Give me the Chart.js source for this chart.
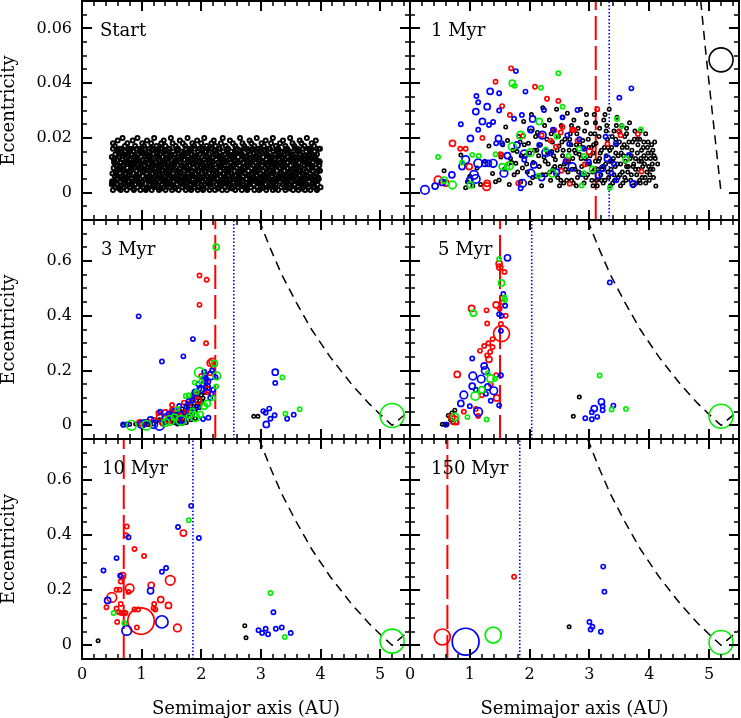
<!DOCTYPE html>
<html><head><meta charset="utf-8">
<script src="https://cdn.jsdelivr.net/npm/chart.js@4.4.0/dist/chart.umd.min.js"></script>
<style>
html,body{margin:0;padding:0;background:#fff;}
body{width:741px;height:718px;position:relative;overflow:hidden;}
canvas{position:absolute;}
</style></head><body>
<canvas id="c0"></canvas><canvas id="c1"></canvas><canvas id="c2"></canvas>
<canvas id="c3"></canvas><canvas id="c4"></canvas><canvas id="c5"></canvas>
<script>
// ---------------- DATA ----------------
const xTickVals = [0,1,2,3,4,5];
const xTickLabels = ['0','1','2','3','4','5'];
const yTickValsTop = [0,0.02,0.04,0.06];
const yTickLabelsTop = ['0','0.02','0.04','0.06'];
const yTickValsLow = [0,0.2,0.4,0.6];
const yTickLabelsLow = ['0','0.2','0.4','0.6'];
const xRange = [0,5.5];
const yRangeTop = [-0.01,0.07];
const yRangeLow = [-0.05,0.75];
const panelTitles = ['Start','1 Myr','3 Myr','5 Myr','10 Myr','150 Myr'];
const redLineA  = [null,3.105,2.235,1.505,0.70,0.625];
const blueLineA = [null,3.33,2.545,2.035,1.86,1.835];
const jupiterA = 5.2;
const jupiterE = [null,0.0485,0.036,0.033,0.015,0.010];
// Jupiter-crossing curve
const curveTopA = [4.86,4.95,5.05,5.15,5.20];
const curveTopE = [0.07,0.05,0.03,0.01,0.0];
const curveLowA = [2.97,3.15,3.35,3.59,3.85,4.16,4.52,4.81,5.00,5.15,5.20,5.50];
const curveLowE = [0.75,0.65,0.55,0.45,0.35,0.25,0.15,0.08,0.04,0.01,0.0,0.055];

// Start: initial planetesimals/embryos [a, e]
const startBand = [
[0.50,.003],[0.52,.001],[0.53,.004],[0.56,.002],[0.58,.005],[0.59,.003],[0.61,.002],[0.64,.004],[0.65,.001],[0.67,.005],[0.70,.002],[0.71,.003],[0.73,.005],[0.75,.001],[0.78,.004],[0.79,.003],[0.81,.002],[0.84,.005],[0.85,.004],[0.87,.001],[0.89,.003],[0.92,.005],[0.93,.002],[0.95,.004],[0.98,.001],[1.00,.003],[1.01,.004],[1.03,.002],[1.06,.005],[1.07,.001],[1.09,.002],[1.12,.004],[1.13,.003],[1.15,.005],[1.17,.001],[1.20,.004],[1.21,.002],[1.23,.003],[1.26,.005],[1.28,.002],[1.29,.001],[1.31,.004],[1.34,.003],[1.35,.005],[1.37,.002],[1.40,.001],[1.41,.003],[1.43,.004],[1.45,.005],[1.48,.002],[1.50,.003],[1.51,.001],[1.54,.004],[1.56,.002],[1.57,.005],[1.59,.003],[1.62,.001],[1.63,.005],[1.66,.004],[1.68,.002],[1.69,.003],[1.71,.004],[1.74,.001],[1.75,.005],[1.77,.002],[1.80,.004],[1.82,.003],[1.83,.001],[1.85,.005],[1.88,.003],[1.89,.002],[1.91,.004],[1.94,.001],[1.95,.002],[1.97,.005],[2.00,.003],[2.02,.004],[2.03,.001],[2.05,.003],[2.08,.005],[2.09,.002],[2.12,.004],[2.14,.001],[2.15,.003],[2.17,.002],[2.20,.005],[2.21,.004],[2.23,.001],[2.26,.003],[2.28,.005],[2.29,.002],[2.31,.003],[2.34,.004],[2.35,.001],[2.37,.005],[2.40,.002],[2.42,.004],[2.43,.001],[2.46,.003],[2.48,.005],[2.49,.003],[2.51,.002],[2.54,.004],[2.55,.005],[2.57,.001],[2.60,.003],[2.61,.002],[2.63,.004],[2.66,.005],[2.68,.001],[2.69,.004],[2.71,.003],[2.74,.002],[2.75,.005],[2.77,.001],[2.80,.003],[2.82,.004],[2.83,.002],[2.85,.005],[2.88,.003],[2.89,.001],[2.92,.004],[2.94,.002],[2.95,.005],[2.97,.001],[3.00,.003],[3.01,.004],[3.03,.002],[3.06,.005],[3.08,.003],[3.09,.001],[3.11,.002],[3.14,.004],[3.15,.005],[3.17,.003],[3.20,.001],[3.22,.004],[3.23,.002],[3.25,.003],[3.28,.005],[3.29,.001],[3.32,.004],[3.34,.002],[3.35,.005],[3.37,.003],[3.40,.002],[3.41,.001],[3.43,.004],[3.46,.005],[3.48,.003],[3.49,.002],[3.51,.004],[3.54,.001],[3.55,.005],[3.57,.003],[3.60,.004],[3.62,.002],[3.63,.001],[3.66,.005],[3.68,.003],[3.69,.004],[3.71,.002],[3.74,.001],[3.75,.005],[3.77,.003],[3.80,.002],[3.81,.004],[3.83,.001],[3.86,.003],[3.88,.005],[3.89,.002],[3.91,.004],[3.94,.001],[3.95,.003],[3.97,.005],[4.00,.002],
[0.51,.007],[0.53,.009],[0.55,.006],[0.57,.010],[0.58,.008],[0.60,.005],[0.63,.009],[0.64,.007],[0.66,.006],[0.69,.010],[0.70,.008],[0.72,.005],[0.74,.007],[0.76,.009],[0.77,.006],[0.80,.008],[0.82,.010],[0.83,.005],[0.86,.007],[0.88,.009],[0.90,.006],[0.91,.008],[0.94,.010],[0.96,.007],[0.97,.005],[0.99,.009],[1.02,.006],[1.04,.008],[1.05,.010],[1.08,.007],[1.10,.005],[1.11,.009],[1.14,.006],[1.16,.008],[1.18,.007],[1.19,.010],[1.22,.005],[1.24,.009],[1.25,.006],[1.27,.008],[1.30,.007],[1.32,.010],[1.33,.005],[1.36,.008],[1.38,.006],[1.39,.009],[1.42,.007],[1.44,.010],[1.46,.005],[1.47,.008],[1.49,.006],[1.52,.009],[1.53,.007],[1.55,.010],[1.58,.005],[1.60,.008],[1.61,.006],[1.64,.009],[1.65,.007],[1.67,.010],[1.70,.005],[1.72,.008],[1.73,.006],[1.76,.009],[1.78,.007],[1.79,.005],[1.81,.010],[1.84,.008],[1.86,.006],[1.87,.009],[1.90,.007],[1.92,.005],[1.93,.010],[1.96,.008],[1.98,.006],[1.99,.009],[2.01,.007],[2.04,.010],[2.06,.005],[2.07,.008],[2.10,.006],[2.11,.009],[2.13,.007],[2.16,.010],[2.18,.005],[2.19,.008],[2.22,.006],[2.24,.009],[2.25,.007],[2.27,.005],[2.30,.010],[2.32,.008],[2.33,.006],[2.36,.009],[2.38,.007],[2.39,.010],[2.41,.005],[2.44,.008],[2.45,.006],[2.47,.009],[2.50,.007],[2.52,.005],[2.53,.010],[2.56,.008],[2.58,.006],[2.59,.009],[2.62,.007],[2.64,.010],[2.65,.005],[2.67,.008],[2.70,.006],[2.72,.009],[2.73,.007],[2.76,.005],[2.78,.010],[2.79,.008],[2.81,.006],[2.84,.009],[2.86,.007],[2.87,.010],[2.90,.005],[2.91,.008],[2.93,.006],[2.96,.009],[2.98,.007],[2.99,.005],[3.02,.010],[3.04,.008],[3.05,.006],[3.07,.009],[3.10,.007],[3.12,.010],[3.13,.005],[3.16,.008],[3.18,.006],[3.19,.009],[3.21,.007],[3.24,.005],[3.26,.010],[3.27,.008],[3.30,.006],[3.31,.009],[3.33,.007],[3.36,.010],[3.38,.005],[3.39,.008],[3.42,.006],[3.44,.009],[3.45,.007],[3.47,.005],[3.50,.010],[3.52,.008],[3.53,.006],[3.56,.009],[3.58,.007],[3.59,.010],[3.61,.005],[3.64,.008],[3.65,.006],[3.67,.009],[3.70,.007],[3.72,.005],[3.73,.010],[3.76,.008],[3.78,.006],[3.79,.009],[3.82,.007],[3.84,.010],[3.85,.005],[3.87,.008],[3.90,.006],[3.92,.009],[3.93,.007],[3.96,.005],[3.98,.010],[3.99,.008],
[0.50,.013],[0.52,.016],[0.54,.011],[0.56,.014],[0.59,.012],[0.60,.015],[0.62,.013],[0.65,.011],[0.66,.016],[0.68,.012],[0.71,.014],[0.72,.015],[0.74,.011],[0.77,.013],[0.78,.016],[0.80,.012],[0.83,.014],[0.84,.011],[0.86,.015],[0.88,.013],[0.91,.012],[0.92,.016],[0.94,.014],[0.97,.011],[0.99,.013],[1.00,.015],[1.02,.012],[1.05,.016],[1.06,.011],[1.08,.014],[1.11,.013],[1.12,.015],[1.14,.012],[1.17,.011],[1.18,.016],[1.20,.014],[1.23,.013],[1.24,.011],[1.26,.015],[1.29,.012],[1.30,.014],[1.32,.016],[1.35,.011],[1.36,.013],[1.38,.015],[1.41,.012],[1.42,.014],[1.44,.011],[1.47,.016],[1.48,.013],[1.50,.012],[1.53,.015],[1.54,.011],[1.56,.014],[1.59,.013],[1.60,.016],[1.62,.012],[1.65,.011],[1.66,.015],[1.68,.013],[1.71,.014],[1.72,.012],[1.74,.016],[1.77,.011],[1.78,.013],[1.80,.015],[1.83,.012],[1.84,.014],[1.86,.011],[1.89,.016],[1.90,.013],[1.92,.012],[1.95,.015],[1.96,.011],[1.98,.014],[2.01,.013],[2.02,.016],[2.04,.012],[2.07,.011],[2.08,.015],[2.10,.013],[2.13,.014],[2.14,.012],[2.16,.016],[2.19,.011],[2.20,.013],[2.22,.015],[2.25,.012],[2.26,.014],[2.28,.011],[2.31,.016],[2.32,.013],[2.34,.012],[2.37,.015],[2.38,.011],[2.40,.014],[2.43,.013],[2.44,.016],[2.46,.012],[2.49,.011],[2.50,.015],[2.52,.013],[2.55,.014],[2.56,.012],[2.58,.016],[2.61,.011],[2.62,.013],[2.64,.015],[2.67,.012],[2.68,.014],[2.70,.011],[2.73,.016],[2.74,.013],[2.76,.012],[2.79,.015],[2.80,.011],[2.82,.014],[2.85,.013],[2.86,.016],[2.88,.012],[2.91,.011],[2.92,.015],[2.94,.013],[2.97,.014],[2.98,.012],[3.00,.016],[3.03,.011],[3.04,.013],[3.06,.015],[3.09,.012],[3.10,.014],[3.12,.011],[3.15,.016],[3.16,.013],[3.18,.012],[3.21,.015],[3.22,.011],[3.24,.014],[3.27,.013],[3.28,.016],[3.30,.012],[3.33,.011],[3.34,.015],[3.36,.013],[3.39,.014],[3.40,.012],[3.42,.016],[3.45,.011],[3.46,.013],[3.48,.015],[3.51,.012],[3.52,.014],[3.54,.011],[3.57,.016],[3.58,.013],[3.60,.012],[3.63,.015],[3.64,.011],[3.66,.014],[3.69,.013],[3.70,.016],[3.72,.012],[3.75,.011],[3.76,.015],[3.78,.013],[3.81,.014],[3.82,.012],[3.84,.016],[3.87,.011],[3.88,.013],[3.90,.015],[3.93,.012],[3.94,.014],[3.96,.011],[3.99,.016],
[0.52,.018],[0.55,.017],[0.60,.019],[0.63,.016],[0.68,.020],[0.72,.017],[0.76,.018],[0.81,.016],[0.85,.019],[0.89,.017],[0.93,.020],[0.97,.016],[1.01,.018],[1.04,.017],[1.09,.019],[1.13,.016],[1.16,.018],[1.21,.020],[1.25,.017],[1.28,.016],[1.33,.018],[1.37,.019],[1.40,.017],[1.45,.016],[1.49,.020],[1.52,.018],[1.57,.017],[1.61,.016],[1.64,.019],[1.69,.018],[1.73,.017],[1.77,.020],[1.81,.016],[1.85,.018],[1.88,.017],[1.93,.019],[1.97,.016],[2.00,.018],[2.05,.020],[2.09,.017],[2.12,.016],[2.17,.018],[2.21,.019],[2.24,.017],[2.29,.016],[2.33,.018],[2.36,.020],[2.41,.017],[2.45,.016],[2.48,.019],[2.53,.018],[2.57,.017],[2.60,.016],[2.65,.020],[2.69,.018],[2.72,.017],[2.77,.016],[2.81,.019],[2.84,.018],[2.89,.017],[2.93,.020],[2.96,.016],[3.01,.018],[3.05,.017],[3.08,.019],[3.13,.016],[3.17,.018],[3.20,.020],[3.25,.017],[3.29,.016],[3.32,.018],[3.37,.019],[3.41,.017],[3.44,.016],[3.49,.020],[3.53,.018],[3.56,.017],[3.61,.016],[3.65,.019],[3.68,.018],[3.73,.017],[3.77,.020],[3.80,.016],[3.85,.018],[3.89,.017],[3.92,.019],[3.97,.016],
[0.51,.0035],[0.54,.0115],[0.57,.0075],[0.60,.0155],[0.62,.0015],[0.65,.0095],[0.68,.0135],[0.70,.0055],[0.73,.0035],[0.76,.0115],[0.78,.0075],[0.81,.0155],[0.84,.0095],[0.86,.0015],[0.89,.0135],[0.92,.0055],[0.94,.0115],[0.97,.0035],[1.00,.0155],[1.02,.0075],[1.05,.0135],[1.08,.0015],[1.10,.0095],[1.13,.0055],[1.16,.0115],[1.18,.0155],[1.21,.0035],[1.24,.0075],[1.26,.0135],[1.29,.0095],[1.32,.0015],[1.34,.0055],[1.37,.0115],[1.40,.0155],[1.42,.0035],[1.45,.0075],[1.48,.0135],[1.50,.0095],[1.53,.0055],[1.56,.0015],[1.58,.0115],[1.61,.0155],[1.64,.0075],[1.66,.0035],[1.69,.0135],[1.72,.0095],[1.74,.0055],[1.77,.0115],[1.80,.0015],[1.82,.0155],[1.85,.0075],[1.88,.0035],[1.90,.0135],[1.93,.0095],[1.96,.0115],[1.98,.0055],[2.01,.0155],[2.04,.0015],[2.06,.0075],[2.09,.0135],[2.12,.0035],[2.14,.0095],[2.17,.0115],[2.20,.0055],[2.22,.0155],[2.25,.0075],[2.28,.0015],[2.30,.0135],[2.33,.0095],[2.36,.0035],[2.38,.0115],[2.41,.0055],[2.44,.0155],[2.46,.0075],[2.49,.0135],[2.52,.0015],[2.54,.0095],[2.57,.0115],[2.60,.0035],[2.62,.0055],[2.65,.0155],[2.68,.0075],[2.70,.0135],[2.73,.0095],[2.76,.0015],[2.78,.0115],[2.81,.0035],[2.84,.0155],[2.86,.0055],[2.89,.0075],[2.92,.0135],[2.94,.0095],[2.97,.0115],[3.00,.0015],[3.02,.0035],[3.05,.0155],[3.08,.0055],[3.10,.0075],[3.13,.0135],[3.16,.0115],[3.18,.0095],[3.21,.0035],[3.24,.0015],[3.26,.0155],[3.29,.0055],[3.32,.0135],[3.34,.0075],[3.37,.0115],[3.40,.0095],[3.42,.0035],[3.45,.0155],[3.48,.0015],[3.50,.0055],[3.53,.0135],[3.56,.0075],[3.58,.0115],[3.61,.0095],[3.64,.0155],[3.66,.0035],[3.69,.0015],[3.72,.0135],[3.74,.0055],[3.77,.0075],[3.80,.0115],[3.82,.0155],[3.85,.0095],[3.88,.0035],[3.90,.0135],[3.93,.0015],[3.96,.0055],[3.98,.0115],
[0.505,.0042],[0.535,.0123],[0.565,.0068],[0.595,.0097],[0.625,.0141],[0.655,.0026],[0.685,.0085],[0.715,.0112],[0.745,.0053],[0.775,.0138],[0.805,.0074],[0.835,.0031],[0.865,.0106],[0.895,.0128],[0.925,.0062],[0.955,.0091],[0.985,.0147],[1.015,.0038],[1.045,.0079],[1.075,.0119],[1.105,.0057],[1.135,.0134],[1.165,.0088],[1.195,.0024],[1.225,.0101],[1.255,.0143],[1.285,.0066],[1.315,.0117],[1.345,.0083],[1.375,.0046],[1.405,.0126],[1.435,.0094],[1.465,.0139],[1.495,.0058],[1.525,.0027],[1.555,.0108],[1.585,.0072],[1.615,.0131],[1.645,.0049],[1.675,.0098],[1.705,.0144],[1.735,.0034],[1.765,.0081],[1.795,.0121],[1.825,.0063],[1.855,.0104],[1.885,.0136],[1.915,.0044],[1.945,.0077],[1.975,.0114],[2.005,.0029],[2.035,.0092],[2.065,.0148],[2.095,.0061],[2.125,.0109],[2.155,.0039],[2.185,.0127],[2.215,.0082],[2.245,.0142],[2.275,.0052],[2.305,.0099],[2.335,.0124],[2.365,.0068],[2.395,.0033],[2.425,.0113],[2.455,.0086],[2.485,.0137],[2.515,.0059],[2.545,.0102],[2.575,.0145],[2.605,.0041],[2.635,.0076],[2.665,.0118],[2.695,.0028],[2.725,.0093],[2.755,.0132],[2.785,.0064],[2.815,.0107],[2.845,.0047],[2.875,.0129],[2.905,.0084],[2.935,.0146],[2.965,.0036],[2.995,.0071],[3.025,.0115],[3.055,.0056],[3.085,.0139],[3.115,.0096],[3.145,.0025],[3.175,.0122],[3.205,.0078],[3.235,.0105],[3.265,.0045],[3.295,.0133],[3.325,.0089],[3.355,.0147],[3.385,.0062],[3.415,.0031],[3.445,.0111],[3.475,.0074],[3.505,.0127],[3.535,.0051],[3.565,.0098],[3.595,.0141],[3.625,.0037],[3.655,.0083],[3.685,.0119],[3.715,.0065],[3.745,.0027],[3.775,.0103],[3.805,.0136],[3.835,.0058],[3.865,.0091],[3.895,.0125],[3.925,.0043],[3.955,.0079],[3.985,.0112]
];

// 1 Myr  black [a,e]; coloured [a,e,mass]
const myr1Black = [
[0.57,.008],[0.85,.0137],[0.93,.0018],[0.96,.004],[1.00,.006],[1.05,.0025],[1.12,.009],[1.18,.003],[1.25,.0115],[1.32,.017],[1.38,.007],[1.43,.004],[1.49,.0046],[1.52,.013],[1.58,.0085],[1.60,.024],[1.63,.019],[1.66,.003],[1.70,.011],[1.74,.0065],[1.77,.0107],[1.79,.015],[1.82,.0205],[1.85,.004],[1.88,.009],[1.90,.026],[1.93,.0135],[1.96,.0075],[1.98,.018],[2.01,.0035],[2.03,.0285],[2.06,.011],[2.08,.0155],[2.11,.006],[2.13,.022],[2.16,.0095],[2.18,.0175],[2.20,.0025],[2.22,.031],[2.24,.013],[2.27,.0065],[2.29,.0195],[2.31,.0105],[2.33,.0265],[2.35,.0045],[2.37,.015],[2.39,.0085],[2.41,.0225],[2.43,.012],[2.45,.0305],[2.47,.0055],[2.49,.017],[2.51,.0095],[2.53,.0245],[2.55,.0135],[2.57,.0035],[2.59,.0195],[2.61,.011],[2.63,.029],[2.64,.0075],[2.66,.0155],[2.68,.0215],[2.70,.0045],[2.72,.0125],[2.74,.0265],[2.76,.0085],[2.78,.0175],[2.80,.0055],[2.81,.0235],[2.83,.014],[2.85,.0305],[2.87,.0095],[2.89,.019],[2.91,.0035],[2.93,.0125],[2.95,.0255],[2.97,.0065],[2.99,.0165],[3.00,.0105],[3.02,.0215],[3.04,.0045],[3.06,.0145],[3.08,.0285],[3.09,.0085],[3.11,.018],[3.13,.0025],[3.15,.0115],[3.17,.0235],[3.19,.0065],[3.20,.0155],[3.22,.0095],[3.24,.0265],[3.26,.0045],[3.28,.0135],[3.30,.0195],[3.31,.0075],[3.33,.0305],[3.35,.0115],[3.37,.0165],[3.39,.0035],[3.41,.0225],[3.43,.0095],[3.44,.0145],[3.46,.0275],[3.48,.0055],[3.50,.0185],[3.52,.0105],[3.54,.0245],[3.55,.0075],[3.57,.0135],[3.59,.0205],[3.61,.0045],[3.63,.0165],[3.65,.0095],[3.67,.0255],[3.68,.0125],[3.70,.0065],[3.72,.0185],[3.74,.0105],[3.76,.0225],[3.78,.0035],[3.80,.0145],[3.82,.0085],[3.84,.0195],[3.86,.0125],[3.88,.0055],[3.90,.0165],[3.92,.0105],[3.94,.0215],[3.96,.0075],[3.98,.0145],[4.00,.0045],[4.02,.0125],[4.04,.0175],[4.06,.0085],[4.08,.0135],[4.11,.0024],[4.14,.0105],
[2.40,.0135],[2.44,.0065],[2.48,.0205],[2.52,.0045],[2.56,.0155],[2.60,.0085],[2.65,.0115],[2.69,.0175],[2.73,.0035],[2.77,.0145],[2.79,.0215],[2.82,.0075],[2.86,.0125],[2.90,.0165],[2.94,.0055],[2.98,.0195],[3.01,.0135],[3.05,.0075],[3.07,.0175],[3.10,.0115],[3.12,.0045],[3.16,.0205],[3.18,.0145],[3.21,.0085],[3.23,.0035],[3.25,.0165],[3.27,.0105],[3.29,.0245],[3.32,.0055],[3.34,.0155],[3.36,.0085],[3.38,.0205],[3.40,.0125],[3.42,.0045],[3.45,.0175],[3.47,.0105],[3.49,.0225],[3.51,.0065],[3.53,.0145],[3.56,.0035],[3.58,.0175],[3.60,.0115],[3.62,.0215],[3.64,.0075],[3.66,.0135],[3.69,.0045],[3.71,.0155],[3.73,.0095],[3.75,.0195],[3.77,.0125],[3.79,.0065],[3.81,.0175],[3.83,.0115],[3.85,.0035],[3.87,.0155],[3.89,.0095],[3.91,.0185],[3.93,.0055],[3.95,.0125],[3.97,.0165],[3.99,.0095],[4.01,.0065],[4.03,.0145],[4.05,.0105],[4.07,.0055],[4.09,.0185],[2.30,.0145],[2.34,.0075],[2.38,.0185],[2.26,.0115],[2.21,.0065],[2.15,.0135],[2.10,.0205],[2.05,.0055],[2.00,.0145],[1.95,.0105],[1.91,.0175],[1.86,.0135],[1.80,.0075],[1.72,.0155],[1.68,.0125],
[2.42,.0095],[2.46,.0155],[2.50,.0025],[2.54,.0185],[2.58,.0105],[2.62,.0045],[2.67,.0195],[2.71,.0085],[2.75,.0155],[2.78,.0025],[2.84,.0175],[2.88,.0065],[2.92,.0225],[2.96,.0105],[3.03,.0165],[3.06,.0025],[3.09,.0215],[3.14,.0085],[3.17,.0125],[3.20,.0045],[3.24,.0095],[3.28,.0225],[3.31,.0165],[3.35,.0025],[3.38,.0115],[3.41,.0065],[3.44,.0195],[3.48,.0135],[3.52,.0025],[3.55,.0165],[3.59,.0055],[3.62,.0095],[3.66,.0185],[3.70,.0135],[3.73,.0025],[3.77,.0085],[3.80,.0195],[3.84,.0045],[3.87,.0115],[3.91,.0135],[3.94,.0035],[3.98,.0185],[4.02,.0085],[4.06,.0155],[4.10,.0125],[2.25,.0245],[2.36,.0215],[2.55,.0275],[2.70,.0245],[2.95,.0285],[3.10,.0255],[3.26,.0285],[3.45,.0245],[3.62,.0235],[3.85,.0225],[2.12,.0155],[2.02,.0225],[1.84,.0185],[1.64,.0105],[1.55,.0175]
];
const myr1Red = [
[0.47,.0046,6],[0.60,.0035,3],[0.71,.018,3],[0.84,.016,1],[0.93,.016,1],[0.99,.0095,3],[1.21,.020,1],[1.43,.0405,1],[1.54,.0316,1],[1.53,.0138,1],[1.51,.014,1],[1.28,.0022,6],[1.29,.0034,3],[1.69,.0454,1],[1.67,.0284,1],[1.81,.0034,1],[1.89,.0207,1],[2.09,.0387,1],[2.29,.0343,1],[2.48,.0335,1],[2.41,.0229,1],[2.55,.024,1],[2.44,.0168,1],[2.53,.008,1],[2.67,.0032,1],[2.74,.0229,1],[3.00,.015,3],[3.13,.0305,1],[3.50,.0223,1],[3.52,.021,1],[3.81,.0214,1],[3.30,.0178,1],[3.87,.0077,1],[2.20,.021,1],[2.62,.012,1],[2.35,.019,1],[2.80,.019,1],[2.92,.0103,1],[2.52,.022,1],[2.71,.023,1]
];
const myr1Blue = [
[0.25,.001,8],[0.42,.0024,3],[0.54,.0037,3],[0.70,.0065,3],[0.85,.025,1],[0.87,.0095,3],[0.93,.012,6],[1.01,.0198,3],[1.07,.0065,8],[1.10,.005,8],[1.00,.0046,3],[1.14,.0107,8],[1.10,.0296,3],[1.11,.0353,1],[1.14,.033,1],[1.14,.023,1],[1.21,.026,3],[1.29,.0314,3],[1.34,.037,3],[1.49,.0363,1],[1.49,.030,1],[1.39,.0258,1],[1.32,.0247,1],[1.48,.0198,3],[1.44,.018,1],[1.25,.0107,3],[1.31,.0107,3],[1.39,.0107,6],[1.54,.018,1],[1.77,.0444,1],[1.93,.0369,1],[1.74,.027,1],[1.87,.0284,1],[1.79,.0174,3],[2.02,.0231,3],[2.05,.0269,3],[2.24,.0302,1],[2.55,.0275,1],[2.80,.0302,1],[2.39,.023,1],[2.63,.021,1],[2.21,.021,6],[1.91,.0141,6],[1.91,.012,1],[2.16,.0174,1],[2.27,.0146,6],[2.34,.0144,1],[2.66,.0178,1],[2.83,.0195,1],[2.91,.016,1],[2.99,.0113,1],[2.87,.0068,1],[2.71,.0095,6],[2.07,.0101,3],[2.02,.0071,6],[1.88,.0034,6],[1.85,.0016,1],[1.57,.0071,6],[3.70,.0381,1],[3.50,.0347,1],[3.27,.0204,1],[3.44,.018,1],[3.66,.0138,1],[3.73,.0032,3],[3.22,.0089,3],[3.41,.0105,1],[3.37,.0071,1],[2.45,.0075,3],[2.20,.0055,3],[1.63,.0135,3],[2.60,.0115,1],[3.15,.0064,3],[3.30,.0125,3],[3.45,.0045,1]
];
const myr1Green = [
[0.57,.0046,3],[0.71,.0028,6],[0.47,.013,1],[0.87,.011,1],[1.04,.0138,1],[1.01,.0028,3],[1.15,.0134,1],[1.43,.014,1],[1.54,.0095,3],[1.66,.0097,6],[1.63,.0092,1],[1.71,.040,3],[1.75,.039,1],[1.71,.0168,6],[1.85,.021,6],[2.16,.026,3],[2.19,.0383,1],[2.55,.0314,1],[2.48,.0436,1],[2.45,.0204,1],[2.01,.0146,6],[2.27,.0158,1],[2.83,.016,1],[2.91,.0134,1],[2.91,.0071,1],[2.15,.0062,1],[2.38,.0071,6],[2.87,.0026,1],[3.46,.0269,1],[3.54,.0243,1],[3.86,.0231,1],[3.61,.0122,3],[3.34,.0018,1],[2.65,.0135,1],[3.05,.0085,3]
];

// 3 Myr
const myr3Black = [
[0.69,0.0],[0.90,0.005],[1.05,0.01],[1.20,0.005],[1.30,0.02],[1.40,0.01],[1.45,0.03],[1.50,0.015],[1.55,0.04],[1.60,0.02],[1.62,0.035],[1.65,0.05],[1.70,0.025],[1.72,0.045],[1.75,0.01],[1.78,0.06],[1.80,0.03],[1.82,0.07],[1.85,0.04],[1.88,0.08],[1.90,0.05],[1.92,0.09],[1.95,0.10],[1.97,0.065],[2.00,0.11],[2.02,0.085],[1.60,0.005],[1.70,0.008],
[1.55,0.01],[1.58,0.03],[1.62,0.045],[1.66,0.02],[1.68,0.06],[1.73,0.035],[1.76,0.05],[1.77,0.075],[1.83,0.02],[1.86,0.06],[1.87,0.095],[1.93,0.07],[1.96,0.12],[1.99,0.08],[2.03,0.10],[2.05,0.12],[1.35,0.005],[1.25,0.015],[0.80,0.004],[1.10,0.002],[1.48,0.045],[1.52,0.025],[1.42,0.02],[1.90,0.025],[2.08,0.14],
[2.88,0.033],[2.95,0.033]
];
const myr3Red = [
[1.97,0.547,1],[2.09,0.532,1],[1.97,0.44,1],[2.08,0.30,1],[2.18,0.234,3],[2.15,0.228,3],[1.51,0.074,1],[1.87,0.104,3],[1.30,0.03,3],[1.20,0.02,1],[1.40,0.045,3],[1.60,0.06,1],[1.70,0.04,3],[2.05,0.16,1],[2.10,0.13,3],[2.12,0.12,1],[1.95,0.09,3],[1.00,0.005,1],[1.10,0.01,3],[1.45,0.02,3],[2.15,0.19,1],[1.80,0.08,1],[1.65,0.025,1],
[0.97,0.009,3],[1.28,0.045,1],[1.51,0.057,1],[1.56,0.047,1],[1.71,0.083,1],[2.08,0.163,1],[1.88,0.115,1],[2.00,0.18,1],[1.62,0.03,3],[1.75,0.05,1],[1.35,0.012,3],[2.20,0.215,1]
];
const myr3Blue = [
[0.95,0.398,1],[1.86,0.315,1],[1.70,0.252,1],[1.34,0.233,1],[0.75,0.003,1],[1.00,0.003,6],[1.20,0.003,6],[1.31,0.05,1],[1.40,0.03,3],[1.55,0.05,3],[1.65,0.04,3],[1.75,0.07,1],[1.80,0.05,3],[1.90,0.12,3],[1.95,0.15,1],[2.00,0.13,3],[2.05,0.196,1],[2.08,0.17,1],[2.10,0.14,3],[2.12,0.028,1],[2.15,0.10,1],[2.20,0.13,1],[2.24,0.176,1],[2.18,0.20,1],[1.85,0.09,1],[1.60,0.015,3],[1.50,0.035,1],
[0.69,0.003,1],[1.05,0.009,3],[1.30,0.0,12],[1.45,0.042,1],[1.63,0.071,1],[1.79,0.089,1],[1.87,0.11,1],[1.97,0.134,1],[2.03,0.15,1],[2.05,0.175,1],[2.16,0.181,6],[2.03,0.023,1],[1.70,0.02,3],[1.92,0.065,1],[2.12,0.16,1],[2.17,0.115,1],[1.15,0.02,3],
[3.04,0.052,1],[3.08,0.046,1],[3.14,0.061,1],[3.16,0.024,1],[3.23,0.037,1],[3.09,0.003,3],[3.24,0.194,3],[3.24,0.155,1],[3.44,0.024,1],[3.55,0.039,1]
];
const myr3Green = [
[2.25,0.651,3],[0.83,0.0,12],[1.08,0.0,12],[1.47,0.018,12],[1.66,0.018,12],[1.79,0.11,1],[1.97,0.193,12],[2.26,0.18,6],[2.25,0.142,1],[2.22,0.226,3],[1.90,0.03,8],[1.98,0.04,3],[2.05,0.07,3],[1.60,0.06,1],[1.85,0.055,1],[2.00,0.16,1],[2.10,0.08,3],[1.40,0.01,6],
[1.74,0.107,1],[1.92,0.122,1],[1.89,0.156,1],[1.79,0.033,1],[1.90,0.039,1],[2.20,0.10,1],[1.55,0.03,3],
[3.36,0.175,1],[3.41,0.042,1],[3.65,0.059,1]
];

// 5 Myr
const myr5Black = [
[0.54,0.004],[0.58,0.004],[0.62,0.004],[0.64,0.036],[0.68,0.02],[0.70,0.045],[0.75,0.055],[0.72,0.01],[2.83,0.103],[2.73,0.033]
];
const myr5Red = [
[1.50,0.578,3],[1.58,0.56,1],[1.49,0.59,3],[1.03,0.427,3],[1.28,0.42,1],[1.44,0.44,3],[1.50,0.427,1],[1.60,0.40,1],[1.29,0.372,1],[1.53,0.335,55],[1.38,0.315,1],[1.31,0.30,1],[1.38,0.286,1],[1.24,0.29,1],[1.17,0.272,1],[1.34,0.268,1],[1.29,0.255,1],[1.32,0.241,3],[0.79,0.186,3],[1.44,0.183,1],[0.74,0.018,8],[1.14,0.034,1],[0.70,0.03,3],[0.78,0.01,1],[1.20,0.11,1],[1.45,0.10,3],[1.35,0.15,1],[1.55,0.45,1],[1.52,0.37,1],[1.10,0.06,1],[0.90,0.05,1]
];
const myr5Blue = [
[1.63,0.612,3],[1.52,0.345,1],[1.59,0.437,1],[1.49,0.406,1],[1.04,0.244,1],[1.05,0.18,6],[1.24,0.217,3],[1.26,0.20,6],[1.19,0.169,6],[1.52,0.183,1],[1.40,0.126,6],[0.90,0.111,6],[1.04,0.143,3],[1.27,0.115,1],[1.14,0.049,8],[1.49,0.073,1],[0.85,0.08,3],[1.00,0.07,1],[1.30,0.14,3],[1.10,0.13,1],[0.60,0.002,1],[1.35,0.09,1],[1.56,0.48,1],[1.53,0.40,1],[3.34,0.522,1],[3.20,0.086,3],[3.22,0.07,1],[3.08,0.061,3],[3.04,0.048,1],[2.93,0.026,1],[3.04,0.022,1],[3.13,0.031,1],[3.22,0.055,1],[3.40,0.072,1]
];
const myr5Green = [
[1.49,0.608,1],[1.53,0.52,3],[1.58,0.467,1],[1.59,0.458,1],[1.06,0.41,3],[1.09,0.107,8],[1.28,0.021,1],[0.96,0.03,1],[1.30,0.19,1],[1.35,0.17,6],[1.20,0.13,3],[0.75,0.03,6],[1.42,0.17,1],[3.17,0.182,1],[3.37,0.058,1],[3.61,0.06,1]
];

// 10 Myr
const myr10Black = [[0.27,0.016],[2.73,0.071],[2.75,0.027]];
const myr10Red = [
[0.68,0.253,3],[0.75,0.432,1],[0.74,0.40,1],[0.88,0.35,1],[1.04,0.325,1],[0.50,0.174,12],[0.41,0.138,1],[0.58,0.202,1],[0.63,0.202,1],[0.58,0.134,1],[0.62,0.12,1],[0.59,0.085,1],[0.65,0.15,1],[0.66,0.117,1],[0.70,0.117,1],[0.73,0.117,1],[0.65,0.232,1],[0.80,0.207,8],[0.78,0.194,1],[0.92,0.065,1],[0.99,0.088,250],[0.88,0.13,1],[0.94,0.13,1],[1.16,0.218,3],[1.21,0.15,1],[1.23,0.13,1],[1.20,0.135,1],[1.32,0.166,3],[1.45,0.145,3],[1.48,0.236,12],[1.60,0.063,6],[1.70,0.408,3]
];
const myr10Blue = [
[0.36,0.272,1],[0.58,0.317,1],[0.64,0.253,1],[0.78,0.393,1],[0.43,0.163,3],[0.75,0.054,12],[1.15,0.198,3],[1.34,0.267,1],[1.41,0.281,1],[1.34,0.085,25],[1.61,0.43,1],[1.83,0.507,1],[1.96,0.39,1],
[2.96,0.055,1],[3.02,0.045,1],[3.08,0.06,1],[3.12,0.04,1],[3.21,0.12,1],[3.25,0.06,1],[3.35,0.065,1],[3.50,0.045,1]
];
const myr10Green = [[0.53,0.117,1],[0.71,0.081,1],[1.79,0.455,1],[3.16,0.19,1],[3.40,0.03,1]];

// 150 Myr
const myr150Black = [[2.66,0.067]];
const myr150Red = [[0.54,0.03,55],[1.74,0.249,1]];
const myr150Blue = [[0.93,0.013,260],[3.00,0.085,1],[3.02,0.057,1],[3.05,0.067,1],[3.19,0.049,1],[3.23,0.286,1],[3.25,0.195,1]];
const myr150Green = [[1.39,0.037,55]];

// ---------------- DRAWING ----------------
const FONT = "'DejaVu Serif', 'Liberation Serif', serif";
const RED = '#ff0000', BLUE = '#0000ff', GREEN = '#00ee00', BLACK = '#000000';
const massRadius = m => 2.1 * Math.cbrt(m);

const geo = [
  {left:0,   top:0,   w:410, h:220, pad:{left:0, right:0,top:1,bottom:0}, yAxis:true,  xAxis:false, dx:18},
  {left:400, top:0,   w:341, h:220, pad:{left:10,right:2,top:1,bottom:0}, yAxis:false, xAxis:false, dx:21},
  {left:0,   top:220, w:410, h:219, pad:{left:0, right:0,top:0,bottom:0}, yAxis:true,  xAxis:false, dx:19},
  {left:400, top:220, w:341, h:219, pad:{left:10,right:2,top:0,bottom:0}, yAxis:false, xAxis:false, dx:28},
  {left:0,   top:439, w:410, h:279, pad:{left:0, right:0,top:0,bottom:0}, yAxis:true,  xAxis:true,  dx:20},
  {left:400, top:439, w:341, h:279, pad:{left:10,right:2,top:0,bottom:0}, yAxis:false, xAxis:true,  dx:21}
];

const panelData = [
  {black:startBand, red:[], blue:[], green:[]},
  {black:myr1Black, red:myr1Red, blue:myr1Blue, green:myr1Green},
  {black:myr3Black, red:myr3Red, blue:myr3Blue, green:myr3Green},
  {black:myr5Black, red:myr5Red, blue:myr5Blue, green:myr5Green},
  {black:myr10Black, red:myr10Red, blue:myr10Blue, green:myr10Green},
  {black:myr150Black, red:myr150Red, blue:myr150Blue, green:myr150Green}
];

const boxPlugin = {
  id: 'box',
  afterDatasetsDraw(chart, args, o) {
    const {ctx, chartArea: ca} = chart;
    const xs = chart.scales.x, ys = chart.scales.y;
    ctx.save();
    ctx.strokeStyle = '#000';
    ctx.lineCap = 'butt';
    const isMaj = (v, step) => Math.abs(v / step - Math.round(v / step)) < 1e-6;
    const k0 = Math.ceil(xs.min / o.xMinor - 1e-9), k1 = Math.floor(xs.max / o.xMinor + 1e-9);
    for (let k = k0; k <= k1; k++) {
      const v = k * o.xMinor;
      const maj = isMaj(v, o.xMajor);
      const len = maj ? 10 : 5;
      const px = Math.round(xs.getPixelForValue(v));
      ctx.lineWidth = maj ? 2 : 1.5;
      ctx.beginPath();
      ctx.moveTo(px, ca.bottom); ctx.lineTo(px, ca.bottom - len);
      ctx.moveTo(px, ca.top); ctx.lineTo(px, ca.top + len);
      ctx.stroke();
    }
    const j0 = Math.ceil(ys.min / o.yMinor - 1e-9), j1 = Math.floor(ys.max / o.yMinor + 1e-9);
    for (let j = j0; j <= j1; j++) {
      const v = j * o.yMinor;
      const maj = isMaj(v, o.yMajor);
      const len = maj ? 10 : 5;
      const py = Math.round(ys.getPixelForValue(v));
      ctx.lineWidth = maj ? 2 : 1.5;
      ctx.beginPath();
      ctx.moveTo(ca.left, py); ctx.lineTo(ca.left + len, py);
      ctx.moveTo(ca.right, py); ctx.lineTo(ca.right - len, py);
      ctx.stroke();
    }
    ctx.lineWidth = 2;
    ctx.strokeRect(ca.left, ca.top, ca.right - ca.left, ca.bottom - ca.top);
    ctx.fillStyle = '#000';
    ctx.font = '18px ' + FONT;
    ctx.textAlign = 'left';
    ctx.textBaseline = 'alphabetic';
    ctx.fillText(o.label, ca.left + o.dx, ca.top + 34.5);
    ctx.restore();
  }
};

function pointSet(arr, color, order, fixedR, bw) {
  const r = fixedR != null ? fixedR : arr.map(p => massRadius(p[2]));
  return {
    type: 'scatter',
    data: arr.map(p => ({x: p[0], y: p[1]})),
    borderColor: color,
    backgroundColor: 'rgba(0,0,0,0)',
    pointBackgroundColor: 'rgba(0,0,0,0)',
    pointBorderColor: color,
    pointBorderWidth: bw,
    pointRadius: r,
    pointHoverRadius: r,
    order: order,
    clip: 0
  };
}
function lineSet(xsArr, ysArr, color, dash, width) {
  return {
    type: 'scatter', showLine: true,
    data: xsArr.map((x, i) => ({x: x, y: ysArr[i]})),
    borderColor: color, borderWidth: width, borderDash: dash,
    pointRadius: 0, pointHoverRadius: 0, fill: false, tension: 0,
    order: 5, clip: 0
  };
}

for (let i = 0; i < 6; i++) {
  const g = geo[i];
  const top = i < 2;
  const yr = top ? yRangeTop : yRangeLow;
  const yVals = top ? yTickValsTop : yTickValsLow;
  const yLabs = top ? yTickLabelsTop : yTickLabelsLow;
  const cv = document.getElementById('c' + i);
  cv.width = g.w; cv.height = g.h;
  cv.style.left = g.left + 'px'; cv.style.top = g.top + 'px';
  cv.style.width = g.w + 'px'; cv.style.height = g.h + 'px';

  const d = panelData[i];
  const datasets = [];
  if (i > 0) {
    datasets.push(pointSet([[jupiterA, jupiterE[i]]], i === 1 ? BLACK : GREEN, 0, 12, 1.6));
  }
  datasets.push(pointSet(d.green, GREEN, 1, null, 1.7));
  datasets.push(pointSet(d.blue, BLUE, 1, null, 1.7));
  datasets.push(pointSet(d.red, RED, 1, null, 1.7));
  datasets.push(pointSet(d.black, BLACK, 3, i === 0 ? 2.0 : 1.7, i === 0 ? 2.0 : 1.6));
  if (i > 0) {
    datasets.push(lineSet([redLineA[i], redLineA[i]], yr, RED, [24, 6], 2));
    datasets.push(lineSet([blueLineA[i], blueLineA[i]], yr, BLUE, [1.5, 2], 1.6));
    if (i === 1) datasets.push(lineSet(curveTopA, curveTopE, BLACK, [9, 6], 1.5));
    else datasets.push(lineSet(curveLowA, curveLowE, BLACK, [9, 6], 1.5));
  }

  new Chart(cv, {
    type: 'scatter',
    data: {datasets: datasets},
    plugins: [boxPlugin],
    options: {
      responsive: false, maintainAspectRatio: false, animation: false, devicePixelRatio: 1, events: [],
      layout: {padding: g.pad, autoPadding: false},
      plugins: {
        legend: {display: false}, tooltip: {enabled: false},
        box: {label: panelTitles[i], dx: g.dx, xMajor: 1, xMinor: 0.2,
              yMajor: top ? 0.02 : 0.2, yMinor: top ? 0.005 : 0.05}
      },
      scales: {
        x: {
          type: 'linear', min: xRange[0], max: xRange[1], display: g.xAxis, position: 'bottom',
          grid: {display: false, drawTicks: false}, border: {display: false},
          afterBuildTicks: s => { s.ticks = xTickVals.map(v => ({value: v})); },
          ticks: {callback: (v, k) => xTickLabels[k], font: {family: FONT, size: 16}, color: '#000',
                  padding: 6, autoSkip: false, maxRotation: 0, minRotation: 0},
          title: {display: true, text: 'Semimajor axis (AU)', color: '#000',
                  font: {family: FONT, size: 18, lineHeight: 1}, padding: {top: 0, bottom: 0}},
          afterFit: s => { s.height = g.xAxis ? 59 : 0; s.paddingLeft = 0; s.paddingRight = 0; }
        },
        y: {
          type: 'linear', min: yr[0], max: yr[1], display: g.yAxis, position: 'left',
          grid: {display: false, drawTicks: false}, border: {display: false},
          afterBuildTicks: s => { s.ticks = yVals.map(v => ({value: v})); },
          ticks: {callback: (v, k) => yLabs[k], font: {family: FONT, size: 16}, color: '#000',
                  padding: 10, autoSkip: false},
          title: {display: true, text: 'Eccentricity', color: '#000',
                  font: {family: FONT, size: 18, lineHeight: 1}, padding: {top: 0, bottom: 0}},
          afterFit: s => { s.width = g.yAxis ? 82 : 0; s.paddingTop = 0; s.paddingBottom = 0; }
        }
      }
    }
  });
}
</script>
</body></html>
